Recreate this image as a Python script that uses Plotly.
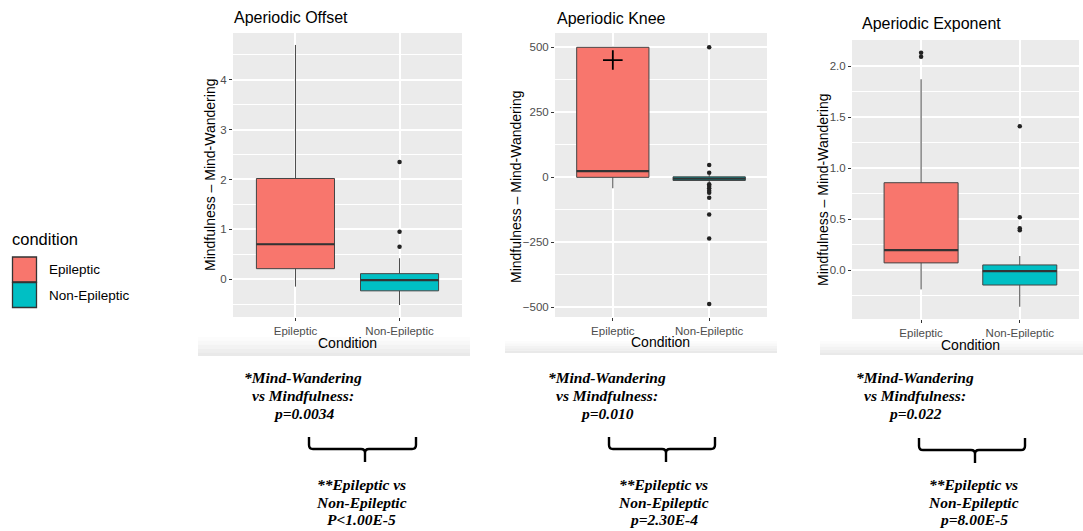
import plotly.graph_objects as go

W, H = 1083, 531

# ---------------- data ----------------
categories = ["Epileptic", "Non-Epileptic"]
colors = ["#F8766D", "#00BFC4"]

offset_q1 = [0.21, -0.235]
offset_median = [0.70, -0.02]
offset_q3 = [2.02, 0.11]
offset_lower = [-0.15, -0.52]
offset_upper = [4.70, 0.42]
offset_out_epi = []
offset_out_non = [2.35, 0.95, 0.65]

knee_q1 = [0, -12]
knee_median = [24, -5]
knee_q3 = [500, 2]
knee_lower = [-42, -18]
knee_upper = [500, 9]
knee_out_epi = []
knee_out_non = [500, 47, 18, -27, -33, -42, -52, -59, -78, -143, -235, -487]
knee_mean_epi = [451]

exp_q1 = [0.07, -0.147]
exp_median = [0.196, -0.01]
exp_q3 = [0.856, 0.05]
exp_lower = [-0.19, -0.36]
exp_upper = [1.87, 0.137]
exp_out_epi = [2.09, 2.13]
exp_out_non = [1.41, 0.517, 0.41, 0.39]

panel_titles = ["Aperiodic Offset", "Aperiodic Knee", "Aperiodic Exponent"]
y_title = "Mindfulness \u2013 Mind-Wandering"
x_title = "Condition"
legend_title = "condition"

stat_text_1 = [
    ["*Mind-Wandering", "vs Mindfulness:", "p=0.0034"],
    ["*Mind-Wandering", "vs Mindfulness:", "p=0.010"],
    ["*Mind-Wandering", "vs Mindfulness:", "p=0.022"],
]
stat_text_2 = [
    ["**Epileptic vs", "Non-Epileptic", "P<1.00E-5"],
    ["**Epileptic vs", "Non-Epileptic", "p=2.30E-4"],
    ["**Epileptic vs", "Non-Epileptic", "p=8.00E-5"],
]

# ---------------- helpers ----------------
def PX(p):
    return p / W

def PY(p):
    return 1 - p / H

BOX_W = 0.75

panels = [
    dict(stats=(offset_q1, offset_median, offset_q3, offset_lower, offset_upper),
         outs=(offset_out_epi, offset_out_non), xdom=(233, 462), ydom=(33, 317),
         xr=[-0.6, 1.6], yr=[-0.76, 4.94], tickvals=[0, 1, 2, 3, 4], fmt="d",
         minor=(0.5, 1), title_xy=(232, 17), ytitle_xy=(210, 175), xtitle_xy=(347, 343)),
    dict(stats=(knee_q1, knee_median, knee_q3, knee_lower, knee_upper),
         outs=(knee_out_epi, knee_out_non), xdom=(555, 767), ydom=(33, 317),
         xr=[-0.6, 1.6], yr=[-537, 555], tickvals=[-500, -250, 0, 250, 500], fmt="d",
         minor=(125, 250), title_xy=(555, 18), ytitle_xy=(516, 187), xtitle_xy=(661, 342)),
    dict(stats=(exp_q1, exp_median, exp_q3, exp_lower, exp_upper),
         outs=(exp_out_epi, exp_out_non), xdom=(852, 1079), ydom=(40, 319),
         xr=[-0.7, 1.6], yr=[-0.48, 2.255], tickvals=[0, 0.5, 1.0, 1.5, 2.0], fmt=".1f",
         minor=(0.25, 0.5), title_xy=(860, 23), ytitle_xy=(823, 190), xtitle_xy=(970, 345)),
]

fig = go.Figure()
annotations = []
shapes = []
layout_axes = {}

sans = "Liberation Sans, Arial, sans-serif"
serif = "Liberation Serif, Times New Roman, serif"

for i, p in enumerate(panels):
    n = "" if i == 0 else str(i + 1)
    xa, ya = "x" + n, "y" + n
    q1, med, q3, lo, up = p["stats"]
    for j, cat in enumerate(categories):
        fig.add_trace(go.Box(
            x=[cat], q1=[q1[j]], median=[med[j]], q3=[q3[j]],
            lowerfence=[lo[j]], upperfence=[up[j]],
            fillcolor=colors[j], line=dict(color="#444444", width=1),
            whiskerwidth=0, width=BOX_W, boxpoints=False, showlegend=False,
            xaxis=xa, yaxis=ya, hoverinfo="y"))
        # thicker median line (ggplot fattens the median)
        shapes.append(dict(type="line", xref=xa, yref=ya,
                           x0=j - BOX_W / 2, x1=j + BOX_W / 2, y0=med[j], y1=med[j],
                           line=dict(color="#333333", width=2.2), layer="above"))
        outs = p["outs"][j]
        if outs:
            fig.add_trace(go.Scatter(
                x=[cat] * len(outs), y=outs, mode="markers",
                marker=dict(color="#222222", size=4.5), showlegend=False,
                xaxis=xa, yaxis=ya))
    if i == 1:
        fig.add_trace(go.Scatter(
            x=[categories[0]], y=knee_mean_epi, mode="markers",
            marker=dict(symbol="cross-thin", size=14,
                        line=dict(color="black", width=1.8)),
            showlegend=False, xaxis=xa, yaxis=ya))

    x0, x1 = p["xdom"]
    y0, y1 = p["ydom"]
    layout_axes["xaxis" + n] = dict(
        domain=[PX(x0), PX(x1)], anchor=ya, type="category",
        categoryorder="array", categoryarray=categories, range=p["xr"],
        showgrid=True, gridcolor="white", gridwidth=1.6, zeroline=False,
        ticks="outside", ticklen=3, tickwidth=1, tickcolor="#333333",
        tickfont=dict(family=sans, size=11.5, color="#4D4D4D"),
        showline=False, fixedrange=True)
    layout_axes["yaxis" + n] = dict(
        domain=[PY(y1), PY(y0)], anchor=xa, range=p["yr"],
        tickvals=p["tickvals"], tickformat=p["fmt"],
        showgrid=True, gridcolor="white", gridwidth=1.6, zeroline=False,
        ticks="outside", ticklen=3, tickwidth=1, tickcolor="#333333",
        tickfont=dict(family=sans, size=11.5, color="#4D4D4D"),
        minor=dict(tick0=p["minor"][0], dtick=p["minor"][1], showgrid=True,
                   gridcolor="white", gridwidth=0.8, ticks=""),
        showline=False, fixedrange=True)

    tx, ty = p["title_xy"]
    annotations.append(dict(text=panel_titles[i], x=PX(tx), y=PY(ty), xref="paper", yref="paper",
                            xanchor="left", yanchor="middle", showarrow=False,
                            font=dict(family=sans, size=16, color="black")))
    yx, yy = p["ytitle_xy"]
    annotations.append(dict(text=y_title, x=PX(yx), y=PY(yy), xref="paper", yref="paper",
                            xanchor="center", yanchor="middle", textangle=-90, showarrow=False,
                            font=dict(family=sans, size=14, color="black")))
    cx, cy = p["xtitle_xy"]
    annotations.append(dict(text=x_title, x=PX(cx), y=PY(cy), xref="paper", yref="paper",
                            xanchor="center", yanchor="middle", showarrow=False,
                            font=dict(family=sans, size=14, color="black")))

# faint bottom strips under each panel image
strips = [(198, 470, 337, 356), (505, 777, 341, 353), (820, 1083, 341, 355)]
greys = ["#FCFCFC", "#F8F8F8", "#F3F3F3", "#EEEEEE", "#E9E9E9"]
for sx0, sx1, sy0, sy1 in strips:
    step = (sy1 - sy0) / len(greys)
    for k, g in enumerate(greys):
        shapes.append(dict(type="rect", xref="paper", yref="paper",
                           x0=PX(sx0), x1=PX(sx1), y0=PY(sy0 + (k + 1) * step), y1=PY(sy0 + k * step),
                           fillcolor=g, line=dict(width=0), layer="below"))

# legend (drawn manually)
annotations.append(dict(text=legend_title, x=PX(10), y=PY(239), xref="paper", yref="paper",
                        xanchor="left", yanchor="middle", showarrow=False,
                        font=dict(family=sans, size=16.5, color="black")))
for j, cat in enumerate(categories):
    top = 257 + j * 25.5
    shapes.append(dict(type="rect", xref="paper", yref="paper",
                       x0=PX(12.5), x1=PX(36.5), y0=PY(top + 25), y1=PY(top),
                       fillcolor=colors[j], line=dict(color="#333333", width=1.3)))
    annotations.append(dict(text=cat, x=PX(47), y=PY(top + 12.5), xref="paper", yref="paper",
                            xanchor="left", yanchor="middle", showarrow=False,
                            font=dict(family=sans, size=13.5, color="black")))

# statistics text and braces
text1_cx = [303, 607, 915]
text2_cx = [362, 663, 973]
braces = [(309, 416, 365, 437), (609, 715, 666, 437), (919, 1025, 975, 438)]
line_y1 = [377, 395, 413]
line_y2 = [484, 502, 519]
for i in range(3):
    for k, t in enumerate(stat_text_1[i]):
        annotations.append(dict(text="<b><i>" + t.replace("<", "&lt;") + "</i></b>",
                                x=PX(text1_cx[i]), y=PY(line_y1[k]), xref="paper", yref="paper",
                                xanchor="center", yanchor="middle", showarrow=False,
                                font=dict(family=serif, size=15.5, color="black")))
    for k, t in enumerate(stat_text_2[i]):
        annotations.append(dict(text="<b><i>" + t.replace("<", "&lt;") + "</i></b>",
                                x=PX(text2_cx[i]), y=PY(line_y2[k]), xref="paper", yref="paper",
                                xanchor="center", yanchor="middle", showarrow=False,
                                font=dict(family=serif, size=15.5, color="black")))
    xl, xr, xm, yt = braces[i]
    yh, yb, r = yt + 12, yt + 25, 4
    def pt(x, y):
        return f"{PX(x):.5f},{PY(y):.5f}"
    path = (f"M{pt(xl, yt)} L{pt(xl, yh - r)} Q{pt(xl, yh)} {pt(xl + r, yh)} "
            f"L{pt(xm - r, yh)} Q{pt(xm, yh)} {pt(xm, yh + r)} L{pt(xm, yb)} "
            f"M{pt(xr, yt)} L{pt(xr, yh - r)} Q{pt(xr, yh)} {pt(xr - r, yh)} "
            f"L{pt(xm + r, yh)} Q{pt(xm, yh)} {pt(xm, yh + r)}")
    shapes.append(dict(type="path", xref="paper", yref="paper", path=path,
                       line=dict(color="black", width=2.4)))

fig.update_layout(
    width=W, height=H, autosize=False,
    margin=dict(l=0, r=0, t=0, b=0),
    paper_bgcolor="white", plot_bgcolor="#EBEBEB",
    boxmode="overlay", showlegend=False,
    annotations=annotations, shapes=shapes,
    **layout_axes)

fig.write_html("out.html", config={"displayModeBar": False},
               post_script="document.body.style.margin='0';document.body.style.overflow='hidden';")
